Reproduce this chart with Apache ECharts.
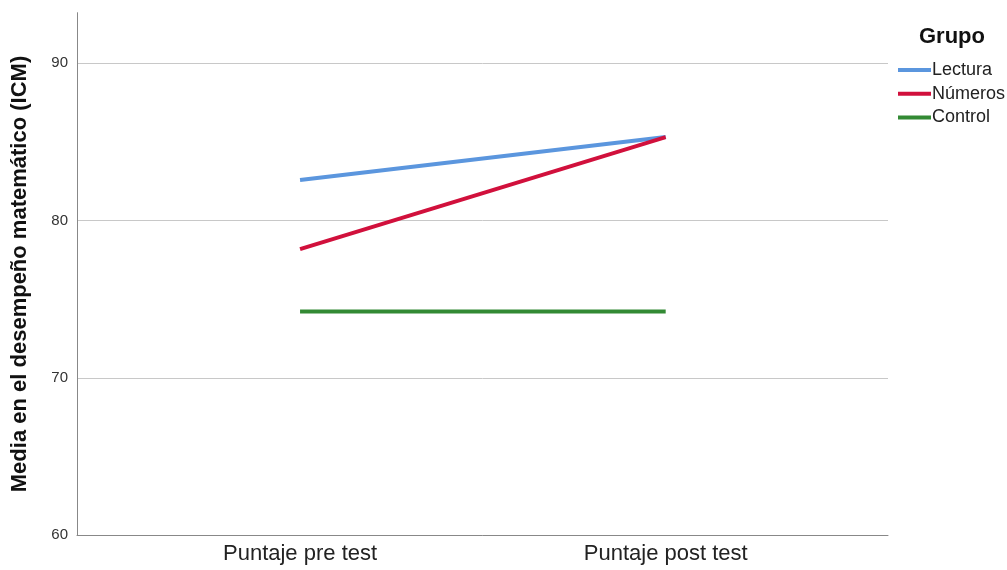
<!DOCTYPE html>
<html>
<head>
<meta charset="utf-8">
<script src="https://cdn.jsdelivr.net/npm/echarts@6/dist/echarts.min.js"></script>
<style>html,body{margin:0;padding:0;background:#fff;}#c{width:1007px;height:570px;}</style>
</head>
<body>
<div id="c"></div>
<script>
const categories = ['Puntaje pre test', 'Puntaje post test'];
const lectura = [82.57, 85.30];
const numeros = [78.18, 85.30];
const control = [74.21, 74.21];
const seriesNames = ['Lectura', 'Números', 'Control'];
const yTicks = [60, 70, 80, 90];

const colors = ['#5b96de', '#d1103c', '#338a34'];
const font = '"Liberation Sans", Arial, sans-serif';
const toPts = arr => arr.map((v, i) => [i, v]);

const chart = echarts.init(document.getElementById('c'));
chart.setOption({
  animation: false,
  backgroundColor: '#fff',
  textStyle: { fontFamily: font },
  title: {
    text: 'Grupo', left: 914, top: 21,
    textStyle: { fontFamily: font, fontSize: 22, fontWeight: 'bold', color: '#111' }
  },
  legend: {
    orient: 'vertical', left: 893, top: 56,
    itemWidth: 33, itemHeight: 4, itemGap: 5.7,
    icon: 'rect',
    textStyle: { fontFamily: font, fontSize: 18, color: '#222', padding: [0, 0, 0, -4] },
    data: seriesNames
  },
  grid: { left: 77, right: 119, top: 12.7, bottom: 34.7, containLabel: false },
  xAxis: {
    type: 'value', min: -0.61, max: 1.608,
    axisLine: { show: true, onZero: false, lineStyle: { color: '#888', width: 1 } },
    axisTick: { show: false },
    splitLine: { show: false },
    axisLabel: {
      customValues: [0, 1],
      formatter: v => categories[Math.round(v)],
      fontFamily: font, fontSize: 22, color: '#222', margin: 8
    }
  },
  yAxis: {
    type: 'value', min: 60, max: 93.2, interval: 10,
    name: 'Media en el desempeño matemático (ICM)',
    nameLocation: 'middle', nameGap: 46, nameRotate: 90,
    nameTextStyle: { fontFamily: font, fontSize: 22, fontWeight: 'bold', color: '#111' },
    axisLine: { show: true, onZero: false, lineStyle: { color: '#888', width: 1 } },
    axisTick: { show: false },
    axisLabel: {
      customValues: yTicks,
      fontFamily: font, fontSize: 15, color: '#333', margin: 9
    },
    splitLine: { show: true, showMaxLine: false, lineStyle: { color: '#c8c8c8', width: 1 } }
  },
  series: [
    { name: seriesNames[0], type: 'line', data: toPts(lectura), showSymbol: false, lineStyle: { width: 4, color: colors[0] }, itemStyle: { color: colors[0] } },
    { name: seriesNames[1], type: 'line', data: toPts(numeros), showSymbol: false, lineStyle: { width: 4, color: colors[1] }, itemStyle: { color: colors[1] } },
    { name: seriesNames[2], type: 'line', data: toPts(control), showSymbol: false, lineStyle: { width: 4, color: colors[2] }, itemStyle: { color: colors[2] } }
  ]
});
</script>
</body>
</html>
